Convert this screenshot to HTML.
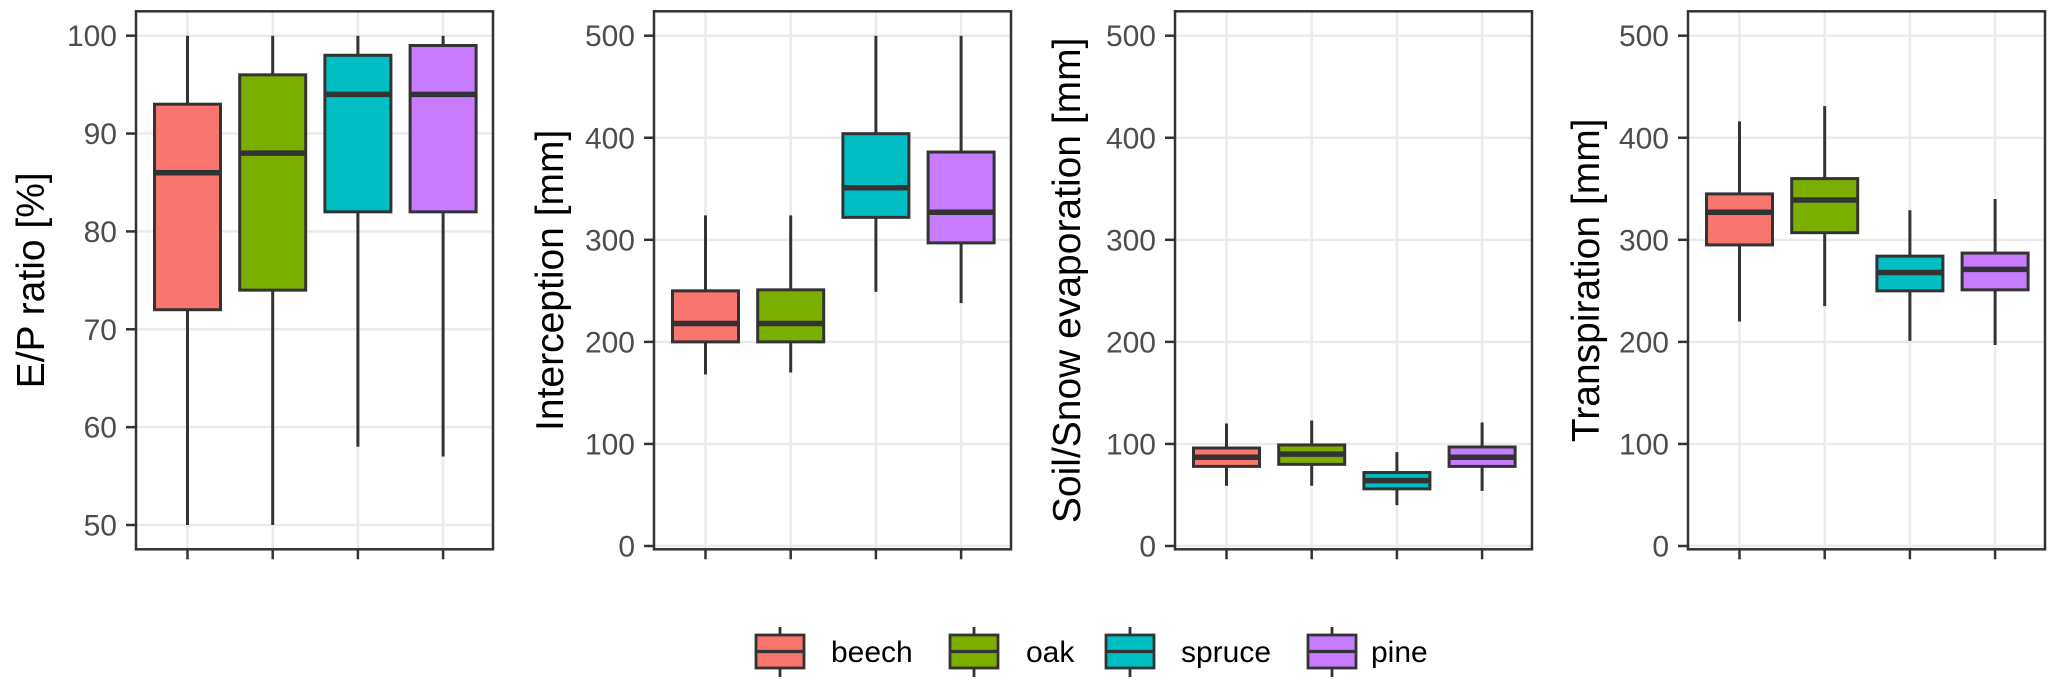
<!DOCTYPE html>
<html><head><meta charset="utf-8"><style>
html,body{margin:0;padding:0;background:#fff;}
svg{display:block;}
text{font-family:"Liberation Sans",Arial,sans-serif;}
</style></head><body>
<svg id="chart" width="2067" height="688" viewBox="0 0 2067 688" xmlns="http://www.w3.org/2000/svg"></svg>
<script>
const species = ["beech","oak","spruce","pine"];
const colors = ["#F8766D","#7CAE00","#00BFC4","#C77CFF"];
const panelTitles = ["E/P ratio [%]","Interception [mm]","Soil/Snow evaporation [mm]","Transpiration [mm]"];
const ratioTicks = [50,60,70,80,90,100];
const mmTicks = [0,100,200,300,400,500];
// [whiskerLow, q1, median, q3, whiskerHigh] per species
const ratioStats = [[50,72,86,93,100],[50,74,88,96,100],[58,82,94,98,100],[57,82,94,99,100]];
const interceptionStats = [[168,200,218,250,324],[170,200,218,251,324],[249,322,351,404,500],[238,297,327,386,500]];
const soilStats = [[59,78,87,96,120],[59,80,90,99,123],[40,56,64,72,92],[54,78,87,97,121]];
const transpStats = [[220,295,327,345,416],[235,307,339,360,431],[201,250,268,284,329],[197,251,271,287,340]];

const NS = "http://www.w3.org/2000/svg";
const svg = document.getElementById("chart");
function el(tag, attrs, parent){const e=document.createElementNS(NS,tag);for(const k in attrs)e.setAttribute(k,attrs[k]);(parent||svg).appendChild(e);return e;}

const panels = [
  {left:136, stats:ratioStats, ticks:ratioTicks, vmin:50, vmax:100, yTop:35.7, yBot:525, titleX:44},
  {left:654, stats:interceptionStats, ticks:mmTicks, vmin:0, vmax:500, yTop:35.7, yBot:546, titleX:563},
  {left:1175, stats:soilStats, ticks:mmTicks, vmin:0, vmax:500, yTop:35.7, yBot:546, titleX:1080},
  {left:1688, stats:transpStats, ticks:mmTicks, vmin:0, vmax:500, yTop:35.7, yBot:546, titleX:1599}
];
const PW=357, PT=11.3, PB=549.3, BW=66, SP=85.2;

panels.forEach((p,pi)=>{
  const g = el("g",{});
  
  
  const y = v => p.yBot - (v-p.vmin)/(p.vmax-p.vmin)*(p.yBot-p.yTop);
  const xc = i => p.left + 51.5 + i*SP;
  p.ticks.forEach(t=>{
    const gl=el("line",{x1:p.left,x2:p.left+PW,y1:y(t),y2:y(t),stroke:"#ebebeb","stroke-width":2.5},g);
    
    
    el("line",{x1:p.left-10,x2:p.left,y1:y(t),y2:y(t),stroke:"#333","stroke-width":2.5},g);
    const tl=el("text",{x:p.left-19,y:y(t)+10.5,"text-anchor":"end","font-size":30,fill:"#4d4d4d"},g);
    tl.textContent=t;
    
    
  });
  species.forEach((s,i)=>{
    el("line",{x1:xc(i),x2:xc(i),y1:PT,y2:PB,stroke:"#ebebeb","stroke-width":2.5},g);
    el("line",{x1:xc(i),x2:xc(i),y1:PB,y2:PB+10,stroke:"#333","stroke-width":2.5},g);
  });
  species.forEach((s,i)=>{
    const st=p.stats[i];
    const bg=el("g",{},g);
    
    
    el("line",{x1:xc(i),x2:xc(i),y1:y(st[0]),y2:y(st[4]),stroke:"#333","stroke-width":3},bg);
    el("rect",{x:xc(i)-BW/2,y:y(st[3]),width:BW,height:y(st[1])-y(st[3]),fill:colors[i],stroke:"#333","stroke-width":3},bg);
    el("line",{x1:xc(i)-BW/2,x2:xc(i)+BW/2,y1:y(st[2]),y2:y(st[2]),stroke:"#333","stroke-width":5.5},bg);
  });
  el("rect",{x:p.left,y:PT,width:PW,height:PB-PT,fill:"none",stroke:"#333","stroke-width":2.5},g);
  const tt=el("text",{x:0,y:0,"text-anchor":"middle","font-size":39,fill:"#000",transform:`translate(${p.titleX},${(PT+PB)/2}) rotate(-90)`},g);
  tt.textContent=panelTitles[pi];
  
  
});

const keyX=[756,950,1106,1308], textX=[831,1026,1181,1371];
species.forEach((s,i)=>{
  const lg=el("g",{});
  
  
  const cx=keyX[i]+24;
  el("line",{x1:cx,x2:cx,y1:627,y2:677,stroke:"#333","stroke-width":2.8},lg);
  el("rect",{x:keyX[i],y:635,width:48,height:33,fill:colors[i],stroke:"#333","stroke-width":2.8},lg);
  el("line",{x1:keyX[i],x2:keyX[i]+48,y1:651.5,y2:651.5,stroke:"#333","stroke-width":3.2},lg);
  const t=el("text",{x:textX[i],y:662,"font-size":30,fill:"#000"},lg);
  t.textContent=s;
});
</script>
</body></html>
